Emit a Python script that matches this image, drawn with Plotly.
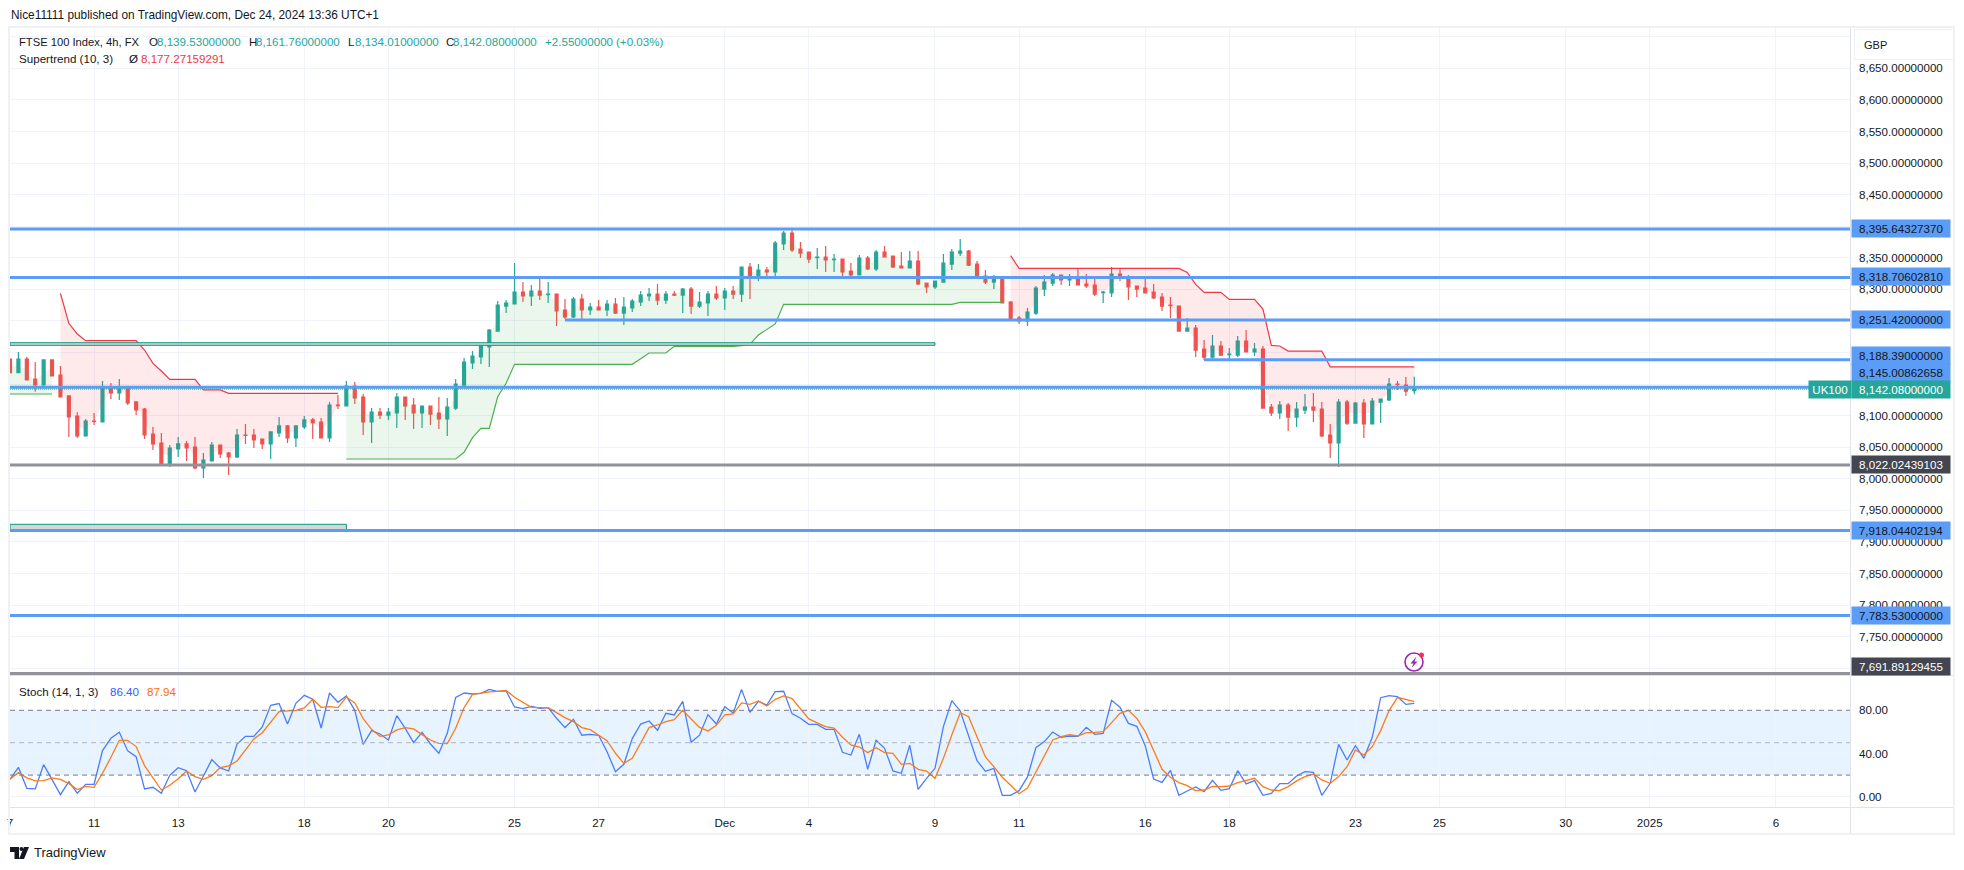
import plotly.graph_objects as go

W, H = 1964, 870
L, R = 10, 1850          # main plot left / right in pixels
BAR = 8.409              # pixel spacing of one bar
XMAX = (R - L) / BAR
M_TOP, M_BOT = 28, 675
S_TOP, S_BOT = 675, 807

opens = [8189.7,8168.1,8189.7,8158.1,8148.6,8188.2,8164.4,8131.2,8099.5,8067.8,8091.6,8090,8145.4,8135.9,8145.4,8121.7,8110.6,8071,8056.7,8023.5,8047.2,8055.2,8050.4,8017.2,8028.2,8053.6,8040.9,8034.6,8069.4,8069.4,8063.1,8055.2,8072.6,8083.7,8064.7,8082.1,8093.2,8090,8064.7,8116.9,8115.3,8147,
8129.5,8090,8105.8,8101,8104.2,8129.5,8116.9,8104.2,8115.3,8104.2,8094.7,8112.1,8148.5,8183.4,8192.9,8208.7,8234,8273.6,8276.8,8295.8,8289.5,8297.4,8291.6,8292.6,8267.3,8256.2,8284.7,8267.3,8272,8267.3,8276.8,8262.5,8270.5,8280,8289.5,8292.6,8283.1,8292.6,8291,8300.5,8273.6,8278.4,8292.6,
8286.3,8297.4,8292.6,8335.4,8321.1,8330.6,8327.5,8371.8,8389.2,8363.9,8359.1,8350.2,8351.2,8347,8348,8329,8322.7,8349.6,8332.2,8359.1,8352.8,8337,8333.8,8344.9,8310,8303.7,8311.6,8340.1,8357.5,8360.7,8340.1,8321.1,8311.6,8316.4,8280,8254.6,8249.9,8262.5,8300.5,8310,8322.7,8314.8,8319.5,
8308.4,8306.8,8294.7,8294.2,8324.3,8319.5,8305.3,8302.1,8295.8,8287.8,8275.2,8273.6,8234,8238.8,8205.5,8192.8,8210.3,8196.5,8196,8218.2,8200.8,8205.5,8113.7,8104.2,8116.8,8097.8,8108.9,8113.7,8110.5,8069.3,8056.7,8121.6,8088.3,8120,8086.8,8121.6,8124.8,8150.1,8148.5,8139.53]
highs = [8189.7,8200.8,8192.9,8185,8189.2,8189.2,8178.7,8132.2,8105.3,8094.7,8104.2,8154.9,8151.7,8158.1,8145.4,8121.7,8112.2,8082.1,8072.6,8053.6,8066.2,8059.9,8066.2,8040.9,8058.3,8053.6,8042.5,8078.9,8086.8,8078.9,8063.1,8074.2,8097.9,8085.2,8083.7,8099.5,8096.3,8096.3,8121.7,8132.7,8154.9,8153.3,
8134.3,8112.1,8112.1,8112.1,8135.9,8129.5,8128,8115.3,8115.3,8129.5,8128,8158,8191.3,8202.4,8215,8237.2,8281.5,8283.1,8341.7,8311.6,8306.9,8316.4,8311.6,8292.6,8284.7,8287.9,8292.6,8278.4,8283.1,8283.1,8286.3,8287.9,8284.7,8297.4,8302.1,8308.5,8297.4,8297.4,8302.1,8303.7,8295.8,8297.4,8305.3,
8302.1,8305.3,8335.4,8341.7,8340.1,8335.4,8376.5,8392.4,8397.1,8375,8359.1,8365.5,8368.6,8356,8348,8341.7,8354.4,8352.8,8362.3,8368.6,8352.8,8359.1,8360.7,8360.7,8310,8313.2,8356,8363.9,8379.7,8362.3,8344.9,8330.6,8322.7,8318,8281.5,8257.8,8270.5,8305.3,8322.7,8325.9,8322.7,8324.3,8333.8,
8324.3,8317.9,8297.3,8335.3,8333.8,8322.7,8305.3,8317.9,8308.4,8294.2,8287.8,8273.6,8254.6,8243.5,8219.8,8227.7,8218.2,8207.1,8226.1,8235.6,8215,8210.3,8118.4,8123.2,8120,8121.6,8134.3,8135.8,8121.6,8086.8,8126.3,8124.8,8121.6,8126.3,8127.9,8126.3,8159.6,8154.8,8161.2,8161.76]
lows = [8168.1,8168.1,8156.5,8138,8145.9,8162.8,8129.6,8066.2,8064.7,8067.8,8085.2,8090,8126.4,8124.8,8116.9,8101.1,8063.1,8045.7,8020.3,8018.7,8034.6,8028.2,8015.6,8001.3,8028.2,8033,8006.1,8033,8055.2,8048.8,8047.2,8031.4,8066.2,8056.7,8050.4,8078.9,8063.1,8064.7,8058.3,8110.6,8115.3,8118.5,
8069.4,8056.7,8094.7,8093.1,8080.5,8093.1,8078.9,8080.5,8085.2,8078.9,8067.8,8109,8145.4,8173.9,8181.8,8177,8234,8262.5,8276.8,8280,8273.6,8283.1,8278.4,8242,8253,8254.6,8253,8259.4,8267.3,8257.8,8261,8243.5,8264.1,8273.6,8281.5,8275.2,8276.8,8289.5,8262.5,8261,8270.5,8257.8,8283.1,
8267.3,8284.7,8280,8284.7,8313.2,8321.1,8318,8362.3,8359.1,8349.6,8341.7,8332.2,8327.5,8327.5,8319.5,8319.5,8322.7,8330.6,8329,8351.2,8333.8,8333.8,8333.8,8306.9,8294.2,8300.5,8311.6,8330.6,8352.8,8337,8318,8308.5,8300.5,8278.4,8253,8245.1,8242,8259.4,8289.5,8305.3,8306.9,8305.3,8306.9,
8302.1,8289.4,8278.3,8287.8,8313.2,8283.1,8287.8,8294.2,8284.7,8265.7,8254.6,8234,8234,8192.8,8188.1,8189.7,8194.4,8186.5,8192.8,8200.8,8194.4,8112.1,8099.4,8094.7,8075.7,8082,8102.6,8089.9,8066.2,8032.9,8018.7,8085.2,8088.3,8064.6,8086.8,8088.3,8123.2,8140.6,8131.1,8134.01]
closes = [8168.1,8189.7,8156.5,8148.6,8188.2,8162.8,8129.6,8097.9,8067.8,8091.6,8091.1,8145.9,8135.9,8145.4,8120.1,8109,8069.4,8055.2,8023.5,8048.8,8055.2,8048.8,8017.2,8029.8,8053.6,8039.3,8034.6,8069.4,8068.9,8061.5,8055.2,8074.2,8083.7,8064.7,8083.7,8093.2,8088.4,8064.7,8116.9,8115.9,8147,8128,
8090,8105.8,8101,8105.8,8129.5,8115.3,8104.2,8115.3,8102.6,8094.7,8113.7,8150.1,8185,8194.5,8211.9,8235.6,8275.2,8278.4,8295.8,8289.5,8297.4,8291,8292.6,8265.7,8256.2,8284.7,8267.3,8272,8267.3,8276.8,8262.5,8272,8281.5,8291,8292.6,8283.1,8292.6,8291,8300.5,8273.6,8280,8292.6,8286.3,
8297.4,8292.6,8335.4,8321.1,8330.6,8327.5,8373.4,8389.2,8362.3,8357.5,8348,8351.2,8346.5,8348,8327.5,8322.7,8349.6,8332.2,8359.1,8351.2,8335.4,8333.8,8344.9,8308.5,8303.7,8313.2,8341.7,8359.1,8360.7,8338.5,8319.5,8311.6,8316.4,8278.4,8253,8249.9,8264.1,8302.1,8311.6,8322.7,8314.8,8319.5,8306.9,
8305.3,8292.6,8295.8,8324.3,8317.9,8303.7,8300.5,8294.2,8286.3,8273.6,8274.1,8234,8238.8,8203.9,8192.8,8210.3,8196,8197.6,8218.2,8200.8,8205.5,8112.1,8104.2,8116.8,8097.8,8110.5,8113.7,8108.9,8067.8,8056.7,8121.6,8088.3,8120,8086.8,8123.2,8126.3,8150.1,8149,8139,8142.08]

# Supertrend segments: (first bar, values)
st_green_1 = (0, [8134.3]*6)
st_red_1 = (6, [8293.7,8246.2,8229.3] + [8218.8]*7 + [8204,8182.9,8170.7] + [8157.5]*4 + [8140.7]*3 + [8135.4]*14)
st_green_2 = (40, [8031.4]*14 + [8042,8065.2,8079.9,8079.9,8130,8151.2] + [8181.3]*15 + [8190.2] + [8199.2]*3 + [8209.8]*8 + [8211,8213,8227.7,8236,8245.2] + [8276.3]*21 + [8279.4]*6)
st_red_2 = (119, [8353.3] + [8333.2]*20 + [8326.9,8307.9] + [8295.2]*3 + [8284.2]*4 + [8268.8,8211.3,8210.3] + [8202.3]*5 + [8177.3]*11)

stoch_k = [16.1,27.2,7.8,7.2,29.7,16.1,1.9,14,3.2,11.5,11.5,42.7,54.1,59.6,42.4,37.1,7.2,8.7,3.2,19.8,26.9,24.1,4.4,19.2,34.3,26.6,23.8,48.8,55.9,55.9,64.6,84.6,86.2,67.3,86.5,93.9,90.2,63.6,96,87.4,93.3,80,48.5,61.2,58.1,52.5,75.1,63.3,50.1,59.6,48.8,40.2,58.7,92,96,95.1,95.7,99.4,97.6,97.9,83.1,81.5,83.7,81.9,82.5,72.6,64,71.7,56.9,57.8,56.9,41.7,23.2,30,53.8,67.3,70.1,61.5,77.2,75.7,88.3,50.4,
57,76,67.3,83.4,77.5,99.4,78.1,88.3,84.9,97.3,97.6,76.9,72.6,67,67,62.4,62.4,41.1,38.6,57.8,25.4,52.2,44.8,23.8,21.7,47.6,6.8,17,26.3,64.9,88.9,79.4,56.2,33.4,23.5,26.3,1.3,1.3,5.6,18.3,45.4,51,59.9,55,56.2,55.9,64.2,57.8,58.7,89.2,82.8,67.9,65.2,47.3,16.4,13.3,24.4,1.3,5.3,9,4.7,15.2,5.9,7.5,24.1,11.8,14.9,1.3,3.1,12.1,12.1,19.2,23.2,22.6,1.3,12.4,48.5,34,47.3,35.5,55,91.7,93.6,92.6,85.5,86.4]
stoch_d = [16.1,22.3,17.4,14.6,14.9,17.4,16.1,12.1,6.6,9.6,8.7,21.7,36.5,52.2,52.2,46.4,28.8,17.7,6.2,10.6,16.7,23.8,18.6,16.1,19.5,26.9,28.5,33.1,43,53.5,59.3,68.6,78.8,79.4,80,82.2,90.2,82.8,83.4,82.5,92.3,86.8,72.3,62.4,55.9,57.2,61.8,64,62.7,57.5,52.5,49.4,49.1,63.3,82.5,94.8,96,97,97.6,98.5,92,87.4,82.8,82.5,82.5,77.8,73.2,69.5,64,62.1,57.2,51.9,40.2,30.9,35.6,50.4,64,66.4,69.5,71.4,80,72,
64.2,60.9,66.1,75.7,76.6,86.8,85.5,88.6,84,90.2,93.3,90.8,80.9,72,68.3,64.9,63.6,55,47.9,46,40.8,45.4,40.8,40.2,30,30.9,25.4,23.8,17,35.5,57.1,77.8,74.1,55.6,36.8,27.8,18,10.6,2.8,8.1,23.2,38.6,52.5,55.6,57.5,56.2,59.3,59.6,60.2,68.6,77.2,80,72.6,60.2,43.3,25.4,18,13,10.2,5.6,6.2,9.6,9.3,9.9,13,14.9,17,9.3,6.2,5.6,9.3,14.6,18.6,21,15.5,12.4,18.6,27.8,43.3,38.6,46.3,61.2,79.7,92,90.2,87.94]

price_ticks = list(range(7700, 8701, 50))
hidden_price_ticks = [7700, 8150, 8700]   # covered by tags and the currency box in the reference
stoch_ticks = [0, 40, 80]
x_tick_pos = [0, 10, 20, 35, 45, 60, 70, 85, 95, 110, 120, 135, 145, 160, 170, 185, 195, 210]
x_tick_txt = ["7", "11", "13", "18", "20", "25", "27", "Dec", "4", "9", "11", "16", "18", "23", "25", "30", "2025", "6"]

# Levels: (price, first bar)
blue_levels = [(8395.64327370, 0), (8318.70602810, 0), (8251.42, 66), (8188.39, 142), (8145.00862658, 0), (7918.04402194, 0), (7783.53, 0)]
grey_levels = [8022.02439103, 7691.89129455]
last_price = 8142.08
zones = [(0, 110, 8211.4, 8215.5), (0, 40, 7919, 7928)]

BLUE, GREY_LINE, TEAL, RED = "#5b9cf6", "#92929b", "#26a69a", "#ef5350"
TXT = "#131722"; GRID = "#f0f3fa"; FRAME = "#eff1f7"; AX = "#e0e3eb"
FONT = "Liberation Sans"


def px(x):
    return x / W


def py(y):
    return 1 - y / H


fig = go.Figure()
bars = list(range(len(closes)))
for (start, vals), line_c, fill_c in [
    (st_green_1, "#4caf50", "rgba(76,175,80,0.11)"),
    (st_red_1, "#f23645", "rgba(242,54,69,0.11)"),
    (st_green_2, "#4caf50", "rgba(76,175,80,0.11)"),
    (st_red_2, "#f23645", "rgba(242,54,69,0.11)"),
]:
    xs = bars[start:start + len(vals)]
    mids = [(opens[i] + closes[i]) / 2 for i in xs]
    fig.add_trace(go.Scatter(x=xs, y=mids, mode="lines", line=dict(width=0, color="rgba(0,0,0,0)"), hoverinfo="skip"))
    fig.add_trace(go.Scatter(x=xs, y=vals, mode="lines", fill="tonexty", fillcolor=fill_c,
                             line=dict(width=1.2, color=line_c), hoverinfo="skip"))

fig.add_trace(go.Candlestick(x=bars, open=opens, high=highs, low=lows, close=closes,
                             increasing=dict(line=dict(color=TEAL, width=1.2), fillcolor=TEAL),
                             decreasing=dict(line=dict(color=RED, width=1.2), fillcolor=RED),
                             whiskerwidth=0))
fig.add_trace(go.Scatter(x=bars, y=stoch_k, mode="lines", line=dict(color="#4a7dfb", width=1.3), xaxis="x2", yaxis="y2"))
fig.add_trace(go.Scatter(x=bars, y=stoch_d, mode="lines", line=dict(color="#ff7a1a", width=1.3), xaxis="x2", yaxis="y2"))

shapes = []
# stochastic band and levels
shapes.append(dict(type="rect", xref="paper", yref="y2", x0=px(L), x1=px(R), y0=20, y1=80,
                   fillcolor="rgba(33,150,243,0.11)", line=dict(width=0), layer="below"))
for lv, col in [(80, "#787b86"), (50, "#b2b5be"), (20, "#787b86")]:
    shapes.append(dict(type="line", xref="paper", yref="y2", x0=px(L), x1=px(R), y0=lv, y1=lv,
                       line=dict(color=col, width=1, dash="5px,4px")))
# zones
for x0, x1, y0, y1 in zones:
    shapes.append(dict(type="rect", xref="x", yref="y", x0=x0, x1=x1, y0=y0, y1=y1,
                       fillcolor="#d6d6d6", line=dict(color="#089981", width=1)))
# levels
for val, start in blue_levels:
    shapes.append(dict(type="line", xref="x", yref="y", x0=start, x1=XMAX, y0=val, y1=val, line=dict(color=BLUE, width=3)))
for val in grey_levels:
    shapes.append(dict(type="line", xref="x", yref="y", x0=0, x1=XMAX, y0=val, y1=val, line=dict(color=GREY_LINE, width=3)))
shapes.append(dict(type="line", xref="x", yref="y", x0=0, x1=XMAX, y0=last_price, y1=last_price,
                   line=dict(color=TEAL, width=1, dash="1px,1px")))
# frame


def prect(x0, y0, x1, y1, color):
    return dict(type="rect", xref="paper", yref="paper", x0=px(x0), x1=px(x1), y0=py(y0), y1=py(y1),
                fillcolor=color, line=dict(width=0), layer="above")


shapes += [prect(8, 26, 10, 835, FRAME), prect(8, 26, 1955, 28, FRAME), prect(1953, 26, 1955, 835, FRAME),
           prect(8, 833, 1955, 835, FRAME), prect(1850, 28, 1851, 833, AX), prect(10, 807, 1953, 808, AX),
           prect(10, 675, 1953, 676, AX)]


# flash icon and logo


def ppath(points, fill=None, stroke=None, width=1.5, close=True):
    d = "M " + " L ".join(f"{px(a):.6f},{py(b):.6f}" for a, b in points) + (" Z" if close else "")
    return dict(type="path", xref="paper", yref="paper", path=d, fillcolor=fill or "rgba(0,0,0,0)",
                line=dict(color=stroke or "rgba(0,0,0,0)", width=width if stroke else 0), layer="above")


shapes.append(dict(type="circle", xref="paper", yref="paper", x0=px(1405), x1=px(1423), y0=py(653), y1=py(671),
                   fillcolor="white", line=dict(color="#9c27b0", width=1.6), layer="above"))
shapes.append(ppath([(1416.5, 656.5), (1410.5, 663.5), (1413.5, 663.5), (1411.5, 668), (1417.5, 661.5), (1414.5, 661.5)], fill="#9c27b0"))
shapes.append(dict(type="circle", xref="paper", yref="paper", x0=px(1419), x1=px(1424), y0=py(652.5), y1=py(657.5),
                   fillcolor="#f23645", line=dict(width=0), layer="above"))
shapes.append(ppath([(10, 847), (19, 847), (19, 859), (14.5, 859), (14.5, 852), (10, 852)], fill=TXT))
shapes.append(dict(type="circle", xref="paper", yref="paper", x0=px(19.5), x1=px(23.5), y0=py(847), y1=py(851),
                   fillcolor=TXT, line=dict(width=0), layer="above"))
shapes.append(ppath([(24, 847), (29, 847), (24, 859), (19, 859)], fill=TXT))

ann = []


def text(x, y, s, color=TXT, size=11.6, anchor="left"):
    ann.append(dict(xref="paper", yref="paper", x=px(x), y=py(y), text=s, showarrow=False, xanchor=anchor,
                    yanchor="middle", font=dict(family=FONT, size=size, color=color), borderpad=0))


def tag(y, s, bg, color):
    ann.append(dict(xref="paper", yref="paper", x=px(1851), y=py(y), text=s, showarrow=False, xanchor="left",
                    yanchor="middle", width=98, height=17, align="center", bgcolor=bg, borderpad=0,
                    font=dict(family=FONT, size=11.6, color=color)))


text(10, 14.5, "Nice11111 published on TradingView.com, Dec 24, 2024 13:36 UTC+1", size=11.85)
text(18, 41.5, "FTSE 100 Index, 4h, FX", size=11.2)
for x, lab in [(148, "O"), (248, "H"), (347, "L"), (445, "C")]:
    text(x, 41.5, lab)
for x, val in [(156, "8,139.53000000"), (255, "8,161.76000000"), (354, "8,134.01000000"), (452, "8,142.08000000"),
               (544, "+2.55000000"), (615, "(+0.03%)")]:
    text(x, 41.5, val, color=TEAL)
text(18, 59, "Supertrend (10, 3)")
text(128, 59, "Ø")
text(140, 59, "8,177.27159291", color="#f23645")
text(18, 691, "Stoch (14, 1, 3)")
text(108.5, 691, "86.40", color="#2962ff")
text(145.5, 691, "87.94", color="#ff6d00")
text(33, 852.5, "TradingView", size=13)

ann.append(dict(xref="paper", yref="paper", x=px(1854), y=py(44.5), text=" ", showarrow=False, xanchor="left",
                yanchor="middle", width=96, height=27, bgcolor="white", bordercolor=FRAME, borderwidth=1))
text(1863, 44.5, "GBP", size=11)
for y, s in [(228.5, "8,395.64327370"), (277, "8,318.70602810"), (319, "8,251.42000000"), (355.5, "8,188.39000000"), (372.5, "8,145.00862658"),
             (530, "7,918.04402194"), (615, "7,783.53000000")]:
    tag(y, s, BLUE, TXT)
tag(389.5, "8,142.08000000", TEAL, "white")
tag(464, "8,022.02439103", "#434651", "white")
tag(666.5, "7,691.89129455", "#434651", "white")
ann.append(dict(xref="paper", yref="paper", x=px(1808), y=py(389.5), text="UK100", showarrow=False, xanchor="left",
                yanchor="middle", width=42, height=17, align="center", bgcolor=TEAL, borderpad=0,
                font=dict(family=FONT, size=11.6, color="white")))

xax = dict(range=[0, XMAX], domain=[px(L), px(R)], showgrid=True, gridcolor=GRID, gridwidth=1, zeroline=False,
           tickmode="array", tickvals=x_tick_pos, ticktext=x_tick_txt, fixedrange=True, rangeslider=dict(visible=False))
y_main = [8650 - (M_BOT - 68.3) * 1.5833, 8650 + (68.3 - M_TOP) * 1.5833]
y_stoch = [(796.7 - S_BOT) / 1.08, (796.7 - S_TOP) / 1.08]
price_text = ["" if v in hidden_price_ticks else f"{v:,.8f}" for v in price_ticks]

fig.update_layout(
    width=W, height=H, autosize=False, margin=dict(l=0, r=0, t=0, b=0, autoexpand=False), paper_bgcolor="white", plot_bgcolor="white",
    showlegend=False, boxgap=0.5, hovermode=False, shapes=shapes, annotations=ann,
    font=dict(family=FONT, size=11.6, color=TXT),
    xaxis=dict(**xax, anchor="y", showticklabels=False, ticks=""),
    xaxis2=dict(**xax, anchor="y2", showticklabels=True, ticks="", ticklabelstandoff=7,
                tickfont=dict(family=FONT, size=11.6, color=TXT)),
    yaxis=dict(domain=[1 - M_BOT / H, 1 - M_TOP / H], range=y_main, side="right", tickmode="array", tickvals=price_ticks,
               ticktext=price_text, gridcolor=GRID, gridwidth=1, zeroline=False, ticks="", ticklabelstandoff=8, fixedrange=True,
               tickfont=dict(family=FONT, size=11.6, color=TXT)),
    yaxis2=dict(domain=[1 - S_BOT / H, 1 - S_TOP / H], range=y_stoch, side="right", tickmode="array", tickvals=stoch_ticks,
                tickformat=".2f", gridcolor=GRID, gridwidth=1, zeroline=False, ticks="", ticklabelstandoff=8, fixedrange=True,
                tickfont=dict(family=FONT, size=11.6, color=TXT)),
)

fig.write_html("out.html", config=dict(displayModeBar=False), post_script="document.body.style.margin='0';document.body.style.overflow='hidden';")
